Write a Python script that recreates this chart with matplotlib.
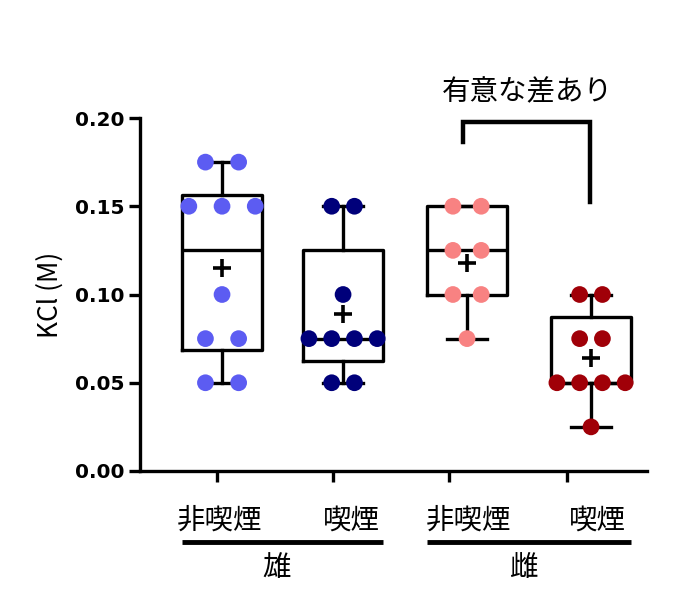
import numpy as np
import matplotlib
matplotlib.use("Agg")
import matplotlib.pyplot as plt

plt.rcParams['font.family'] = ['Noto Sans CJK JP', 'DejaVu Sans']

# ---- data ----
groups = ["非喫煙", "喫煙", "非喫煙", "喫煙"]
sexes = ["雄", "雌"]
male_non = [0.175, 0.175, 0.15, 0.15, 0.15, 0.10, 0.075, 0.075, 0.05, 0.05]
male_smk = [0.15, 0.15, 0.10, 0.075, 0.075, 0.075, 0.075, 0.05, 0.05]
fem_non = [0.15, 0.15, 0.125, 0.125, 0.10, 0.10, 0.075]
fem_smk = [0.10, 0.10, 0.075, 0.075, 0.05, 0.05, 0.05, 0.05, 0.025]
values = [male_non, male_smk, fem_non, fem_smk]
colors = ["#5c5cf2", "#00007a", "#f88282", "#a00008"]
sig_label = "有意な差あり"
yticks = [0.00, 0.05, 0.10, 0.15, 0.20]

# ---- layout ----
pos = [1.0, 1.984, 2.992, 4.0]
tick_pos = [0.959, 1.902, 2.846, 3.805]   # Prism puts the ticks a bit off the boxes
label_pos = [0.984, 2.049, 3.008, 4.049]
spacing = [0.27, 0.185, 0.23, 0.185]
box_w = 0.65
lw = 2.4
cjk_size = 20.5

fig = plt.figure(figsize=(6.88, 5.90), dpi=100)
ax = fig.add_axes([140/688, 119/590, 507/688, 353/590])

stats = []
for v, p in zip(values, pos):
    a = np.array(v)
    q1, med, q3 = np.percentile(a, [25, 50, 75], method='weibull')
    stats.append(dict(med=med, q1=q1, q3=q3, whislo=a.min(), whishi=a.max(), fliers=[]))

line = dict(color='black', linewidth=lw)
ax.bxp(stats, positions=pos, widths=box_w, capwidths=0.33, showfliers=False,
       boxprops=line, whiskerprops=line, capprops=line,
       medianprops=line, zorder=2)

# dots spread sideways by how many share a value
for v, p, c, sp in zip(values, pos, colors, spacing):
    uniq, counts = np.unique(v, return_counts=True)
    for val, k in zip(uniq, counts):
        offs = (np.arange(k) - (k - 1) / 2) * sp
        ax.scatter(p + offs, [val] * k, s=145, color=c, edgecolors='none', zorder=3,
                   clip_on=False)
    ax.plot(p, np.mean(v), marker='+', color='black', markersize=13, mew=2.6, zorder=4)

ax.set_xlim(0.333, 4.455)
ax.set_ylim(0, 0.20)
ax.set_yticks(yticks)
ax.set_yticklabels([f"{t:.2f}" for t in yticks], fontsize=14.5, fontweight='bold',
                   family='DejaVu Sans')
ax.set_xticks(tick_pos)
ax.set_xticklabels([])
ax.tick_params(axis='both', width=lw, length=8, direction='out')
for s in ['top', 'right']:
    ax.spines[s].set_visible(False)
for s in ['left', 'bottom']:
    ax.spines[s].set_linewidth(lw)
ax.set_ylabel("KCl (M)", fontsize=19, labelpad=8)

# category labels, group underline and sex labels
for lp, g in zip(label_pos, groups):
    ax.text(lp, -0.0283, g, ha='center', va='center', fontsize=cjk_size, clip_on=False)
for i, sx in enumerate(sexes):
    x0 = pos[2 * i] - box_w / 2
    x1 = pos[2 * i + 1] + box_w / 2
    ax.plot([x0, x1], [-0.0405, -0.0405], color='black', lw=3.5, clip_on=False,
            solid_capstyle='butt')
    ax.text((x0 + x1) / 2 - 0.05, -0.055, sx, ha='center', va='center',
            fontsize=cjk_size, clip_on=False)

# significance bracket between the two female groups
bx0, bx1 = pos[2] - 0.03, pos[3] - 0.005
ax.plot([bx0, bx0, bx1, bx1], [0.1864, 0.1977, 0.1977, 0.1524], color='black',
        lw=3.2, clip_on=False, solid_joinstyle='miter')
ax.text((bx0 + bx1) / 2, 0.2145, sig_label, ha='center', va='center', fontsize=cjk_size,
        clip_on=False)

fig.savefig("out.png", dpi=100)
